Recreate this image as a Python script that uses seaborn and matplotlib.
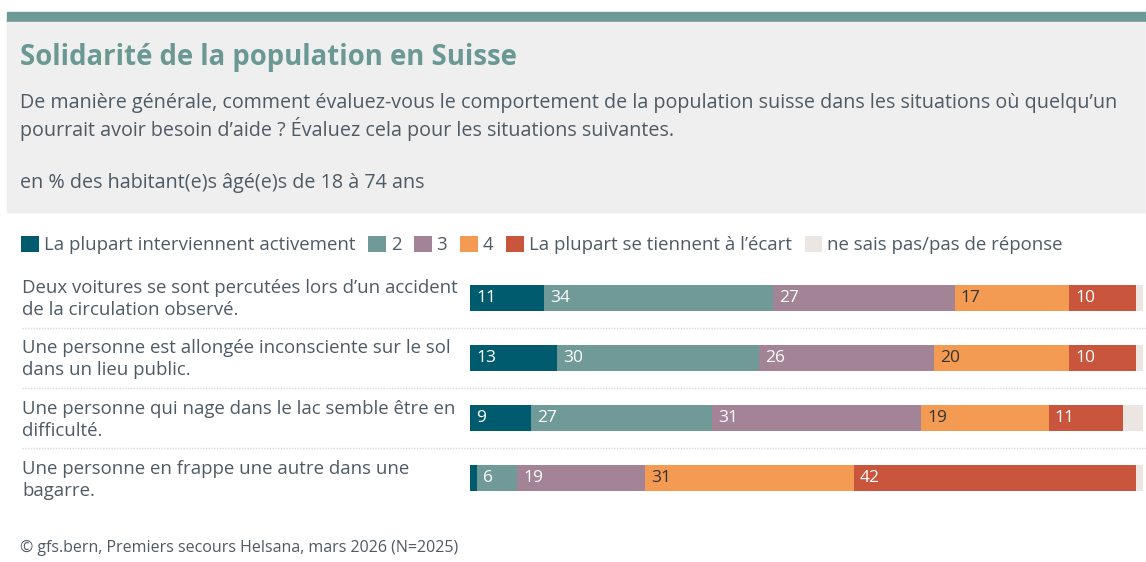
import numpy as np
import pandas as pd
import matplotlib
matplotlib.use("Agg")
import matplotlib.pyplot as plt
from matplotlib.lines import Line2D
from matplotlib.patches import Rectangle, Patch
import seaborn as sns

# Data
situations = [
    "Deux voitures se sont percutées lors d’un accident\nde la circulation observé.",
    "Une personne est allongée inconsciente sur le sol\ndans un lieu public.",
    "Une personne qui nage dans le lac semble être en\ndifficulté.",
    "Une personne en frappe une autre dans une\nbagarre.",
]
levels = ["La plupart interviennent activement", "2", "3", "4",
          "La plupart se tiennent à l’écart", "ne sais pas/pas de réponse"]
v_active = [11, 13, 9, 1]
v_2 = [34, 30, 27, 6]
v_3 = [27, 26, 31, 19]
v_4 = [17, 20, 19, 31]
v_away = [10, 10, 11, 42]
v_dk = [1, 1, 3, 1]

colors = ["#005b6e", "#6f9a97", "#a38396", "#f39b52", "#c9553c", "#ebe6e2"]
label_colors = ["white", "white", "white", "#333333", "white", None]

sns.set_theme(style="white")
plt.rcParams['font.family'] = ['Open Sans', 'DejaVu Sans']
text_col = "#4f5a64"

series = [v_active, v_2, v_3, v_4, v_away, v_dk]
df = pd.DataFrame({lvl: vals for lvl, vals in zip(levels, series)}, index=situations)
cum = df.cumsum(axis=1)
start = cum - df

fig = plt.figure(figsize=(11.46, 5.62), dpi=100)
W, H = 1146, 562

def fx(px):
    return px / W

def fy(py):
    return 1 - py / H

# header
fig.patches.append(Rectangle((fx(7), fy(22)), 1, 10 / H, transform=fig.transFigure,
                             color="#6e9a96", zorder=0))
fig.patches.append(Rectangle((fx(7), fy(212)), 1, 190 / H, transform=fig.transFigure,
                             color="#efefef", zorder=0))
fig.text(fx(20), fy(58), "Solidarité de la population en Suisse", fontsize=19.8,
         fontweight="bold", color="#6a9893", va="center")
fig.text(fx(20), fy(117),
         "De manière générale, comment évaluez-vous le comportement de la population suisse dans les situations où quelqu’un\n"
         "pourrait avoir besoin d’aide ? Évaluez cela pour les situations suivantes.",
         fontsize=14.2, color=text_col, va="center", linespacing=1.25)
fig.text(fx(20), fy(183), "en % des habitant(e)s âgé(e)s de 18 à 74 ans",
         fontsize=14.2, color=text_col, va="center")

# bars
ax = fig.add_axes([fx(470), fy(508), 673 / W, 240 / H])
for lvl, col in reversed(list(zip(levels, colors))):
    sns.barplot(x=cum[lvl].values, y=situations, orient="h", color=col,
                saturation=1, width=0.43, linewidth=0, ax=ax)
ax.set_xlim(0, 100)
ax.set_ylim(3.5, -0.5)
ax.axis("off")

for i, sit in enumerate(situations):
    for lvl, lc in zip(levels, label_colors):
        val = df.loc[sit, lvl]
        if lc is None or val < 5:
            continue
        ax.text(start.loc[sit, lvl] + 0.9, i, f"{val}", color=lc, fontsize=12.5,
                va="center", ha="left")
    fig.text(fx(22), fy(299 + 60.3 * i), sit, fontsize=13.4, color=text_col,
             va="center", linespacing=1.28)

# separators
for py in [328, 388, 448]:
    fig.add_artist(Line2D([fx(22), 1], [fy(py), fy(py)], transform=fig.transFigure,
                          color="#d9d9d9", lw=1, ls=(0, (1, 1))))

# legend
handles = [Patch(facecolor=c, edgecolor="none") for c in colors]
fig.legend(handles, levels, loc="center left", bbox_to_anchor=(fx(14), fy(245)),
           ncol=6, frameon=False, fontsize=13.4, handlelength=0.95, handleheight=0.95,
           handletextpad=0.25, columnspacing=0.7, labelcolor=text_col, borderaxespad=0)

fig.text(fx(20), fy(548), "© gfs.bern, Premiers secours Helsana, mars 2026 (N=2025)",
         fontsize=11.5, color=text_col, va="center")

fig.savefig("out.png", dpi=100)
